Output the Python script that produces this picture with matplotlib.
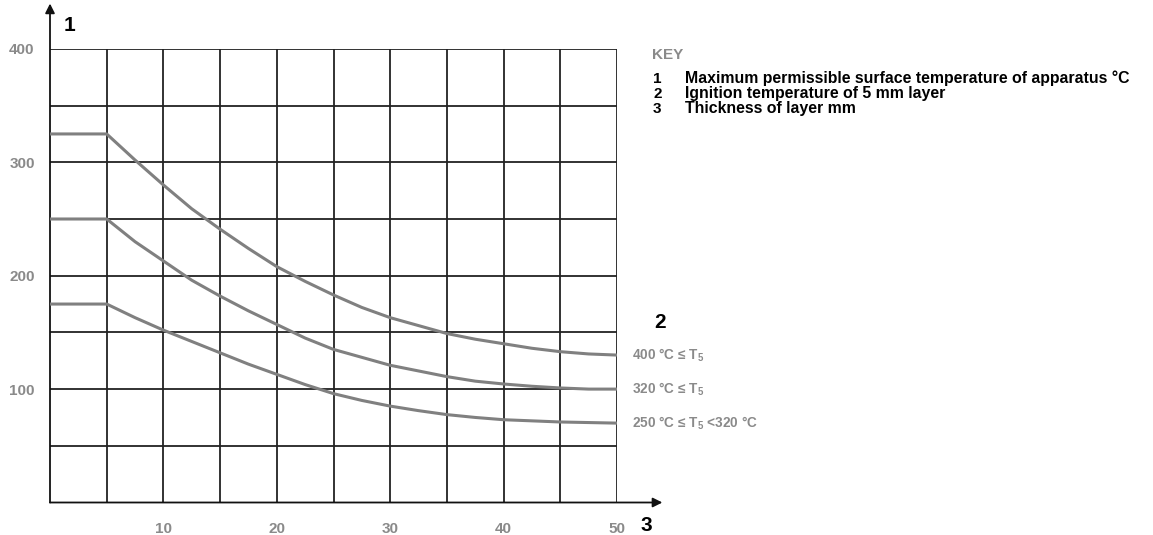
import matplotlib
matplotlib.use("Agg")
import matplotlib.pyplot as plt

plt.rcParams["font.family"] = ["Liberation Sans", "DejaVu Sans"]
plt.rcParams["font.weight"] = "bold"
plt.rcParams["mathtext.fontset"] = "custom"
plt.rcParams["mathtext.rm"] = "Liberation Sans:bold"
plt.rcParams["mathtext.it"] = "Liberation Sans:bold"
plt.rcParams["mathtext.bf"] = "Liberation Sans:bold"

# layer thickness (mm)
thickness = [0, 5, 7.5, 10, 12.5, 15, 17.5, 20, 22.5, 25, 27.5, 30,
             32.5, 35, 37.5, 40, 42.5, 45, 47.5, 50]

# max permissible surface temperature (°C) per ignition class
temp_400 = [325, 325, 302, 280, 259, 241, 224, 208, 195, 183, 172, 163,
            156, 149, 144, 140, 136, 133, 131, 130]
temp_320 = [250, 250, 230, 213, 196, 182, 169, 157, 145, 135, 128, 121,
            116, 111, 107, 104.5, 102.5, 101, 100, 100]
temp_250 = [175, 175, 163, 152, 142, 132, 122, 113, 104, 96, 90, 85,
            81, 77.5, 75, 73, 72, 71, 70.5, 70]

curve_labels = ["400 °C ≤ $T_5$", "320 °C ≤ $T_5$", "250 °C ≤ $T_5$ <320 °C"]

x_ticks = [10, 20, 30, 40, 50]
y_ticks = [100, 200, 300, 400]

key_items = [
    ("1", "Maximum permissible surface temperature of apparatus °C"),
    ("2", "Ignition temperature of 5 mm layer"),
    ("3", "Thickness of layer mm"),
]

tick_grey = "#8a8a8a"
curve_grey = "#808080"

fig = plt.figure(figsize=(11.53, 5.35), dpi=100)
ax = fig.add_axes([50 / 1153, 32.5 / 535, 567 / 1153, 453.6 / 535])

ax.set_xlim(0, 50)
ax.set_ylim(0, 400)

# grid
for gx in range(5, 55, 5):
    ax.plot([gx, gx], [0, 400], color="#222222", lw=1.3, zorder=1)
for gy in range(50, 450, 50):
    ax.plot([0, 50], [gy, gy], color="#222222", lw=1.3, zorder=1)

for s in ax.spines.values():
    s.set_visible(False)

# axes with arrows
ax.annotate("", xy=(0, 440), xytext=(0, 0),
            arrowprops=dict(arrowstyle="-|>", color="#111111", lw=1.3,
                            mutation_scale=14, shrinkA=0, shrinkB=0),
            annotation_clip=False)
ax.annotate("", xy=(54, 0), xytext=(0, 0),
            arrowprops=dict(arrowstyle="-|>", color="#111111", lw=1.3,
                            mutation_scale=14, shrinkA=0, shrinkB=0),
            annotation_clip=False)

for ys in (temp_400, temp_320, temp_250):
    ax.plot(thickness, ys, color=curve_grey, lw=2.2, zorder=3,
            solid_capstyle="butt")

ax.set_xticks(x_ticks)
ax.set_yticks(y_ticks)
ax.set_xticklabels([str(v) for v in x_ticks])
ax.set_yticklabels([str(v) for v in y_ticks])
ax.tick_params(length=0, labelsize=11, labelcolor=tick_grey)
ax.tick_params(axis="y", pad=11)
ax.tick_params(axis="x", pad=14)

# curve labels on the right
for ys, lab in zip((temp_400, temp_320, temp_250), curve_labels):
    ax.text(51.3, ys[-1], lab, color=tick_grey, fontsize=9.8,
            va="center", ha="left", clip_on=False)

# axis numbers
ax.text(1.2, 420.5, "1", fontsize=15, color="black", va="center", clip_on=False)
ax.text(53.3, 159, "2", fontsize=15, color="black", va="center", clip_on=False)
ax.text(52.1, -20.5, "3", fontsize=15, color="black", va="center", clip_on=False)

# key
fig.text(652 / 1153, 1 - 59 / 535, "KEY", color=tick_grey, fontsize=11,
         va="baseline")
for i, (num, desc) in enumerate(key_items):
    yy = 1 - (83 + i * 15) / 535
    fig.text(653 / 1153, yy, num, color="black", fontsize=11, va="baseline")
    fig.text(685 / 1153, yy, desc, color="black", fontsize=11.4, va="baseline")

fig.savefig("out.png", dpi=100)
